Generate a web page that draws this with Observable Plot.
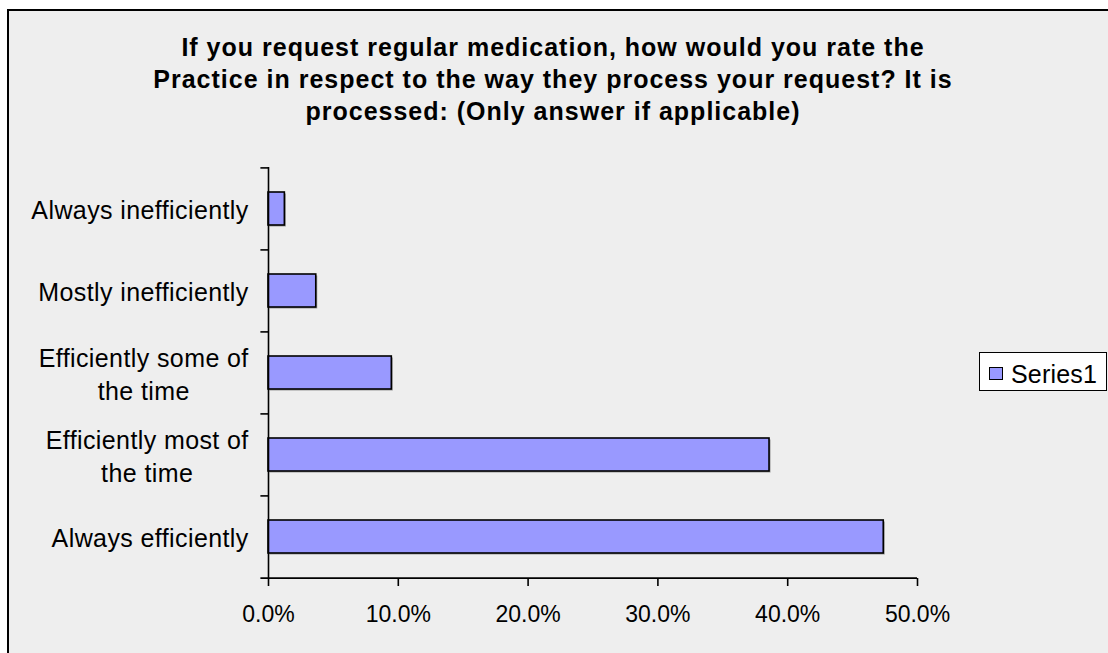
<!DOCTYPE html>
<html>
<head>
<meta charset="utf-8">
<script src="https://cdn.jsdelivr.net/npm/d3@7"></script>
<script src="https://cdn.jsdelivr.net/npm/@observablehq/plot@0.6"></script>
<style>
  html, body { margin: 0; padding: 0; background: #ffffff; }
  #wrap { position: relative; width: 1108px; height: 653px; overflow: hidden; background: #ffffff;
          font-family: "Liberation Sans", Arial, sans-serif; }
  #panel { position: absolute; left: 7px; top: 9px; width: 1200px; height: 700px;
           border-left: 2px solid #000; border-top: 2px solid #000; background: #eeeeee; }
  #title { position: relative; width: 1106px; height: 140px; box-sizing: border-box; padding-top: 31px;
           text-align: center; font-weight: bold; font-size: 25px; line-height: 32.2px;
           letter-spacing: 1px; color: #000; }
  #chart { position: relative; }
  #chart .cat-label text { letter-spacing: 0.4px; }
  #legend { position: absolute; left: 979px; top: 352px; width: 128px; height: 39px;
            border: 1px solid #000; background: #ffffff; box-sizing: border-box; }
  #legend .swatch { position: absolute; left: 9px; top: 14px; width: 14px; height: 13px;
                    box-sizing: border-box; border: 1.5px solid #000; }
  #legend .name { position: absolute; left: 31px; top: 7px; font-size: 25px; line-height: 28px;
                  letter-spacing: 0.2px; color: #000; }
</style>
</head>
<body>
<div id="wrap">
  <div id="panel"></div>
  <div id="title">If you request regular medication, how would you rate the<br>Practice in respect to the way they process your request? It is<br>processed: (Only answer if applicable)</div>
  <div id="chart"></div>
  <div id="legend"><div class="swatch"></div><div class="name"></div></div>
</div>
<script>
// Response categories, top to bottom
const categories = [
  "Always inefficiently",
  "Mostly inefficiently",
  "Efficiently some of the time",
  "Efficiently most of the time",
  "Always efficiently"
];
// Axis labels, wrapped as on the category axis
const categoryLabels = [
  "Always inefficiently",
  "Mostly inefficiently",
  "Efficiently some of\nthe time",
  "Efficiently most of\nthe time",
  "Always efficiently"
];
// Share of respondents (Series1)
const seriesName = "Series1";
const shares = [0.0126, 0.0368, 0.095, 0.386, 0.474];
// Percentage axis ticks
const xTicks = [0, 0.1, 0.2, 0.3, 0.4, 0.5];

const barColor = "#9999ff";
const fontFamily = "'Liberation Sans', Arial, sans-serif";
const labelSpacing = 0.4;

const rows = categories.map((c, i) => ({category: c, share: shares[i], label: categoryLabels[i]}));

const W = 1108, H = 513;
const mTop = 27, mBottom = 75, mLeft = 268, mRight = 191;
const step = (H - mTop - mBottom) / categories.length;

// width of the widest line of a label, used to centre wrapped lines in a right-aligned block
const ctx = document.createElement("canvas").getContext("2d");
ctx.font = `25px ${fontFamily}`;
const lineWidth = (t) => ctx.measureText(t).width + labelSpacing * (t.length - 1);
const blockWidth = (s) => Math.max(...s.split("\n").map(lineWidth));

const labelMarks = rows.map((r) =>
  Plot.text([r], {
    y: "category",
    x: 0,
    text: "label",
    textAnchor: "middle",
    lineAnchor: "middle",
    lineHeight: 1.3,
    fontSize: 25,
    fill: "#000",
    className: "cat-label",
    dx: -(20 + blockWidth(r.label) / 2)
  })
);

const chart = Plot.plot({
  width: W,
  height: H,
  marginTop: mTop,
  marginBottom: mBottom,
  marginLeft: mLeft,
  marginRight: mRight,
  style: {background: "transparent", color: "#000", fontFamily, fontSize: "23px", overflow: "visible"},
  x: {domain: [0, 0.5], axis: null},
  y: {domain: categories, paddingInner: 0.6, paddingOuter: 0.3, axis: null},
  marks: [
    // soft drop shadow under each bar
    Plot.barX(rows, {y: "category", x: "share", fill: "#9a9a9a", dx: 1.5, dy: 1.5}),
    Plot.barX(rows, {y: "category", x: "share", fill: barColor, stroke: "#000", strokeWidth: 1.6}),
    // value axis line and ticks
    Plot.ruleY([categories[categories.length - 1]], {dy: step / 2, x1: 0, x2: 0.5, insetLeft: -7.6, stroke: "#000", strokeWidth: 1.6}),
    Plot.axisX({ticks: xTicks, tickFormat: d3.format(".1%"), tickSize: 8, tickPadding: 19, label: null,
                strokeWidth: 1.6, fontSize: 23}),
    // category axis line and tick marks between categories
    Plot.ruleX([0], {stroke: "#000", strokeWidth: 1.6}),
    Plot.ruleY(categories, {dy: -step / 2, x1: 0, x2: 0, insetLeft: -7.6, stroke: "#000", strokeWidth: 1.6}),
    ...labelMarks
  ]
});

document.getElementById("chart").appendChild(chart);
document.querySelector("#legend .swatch").style.background = barColor;
document.querySelector("#legend .name").textContent = seriesName;
</script>
</body>
</html>
